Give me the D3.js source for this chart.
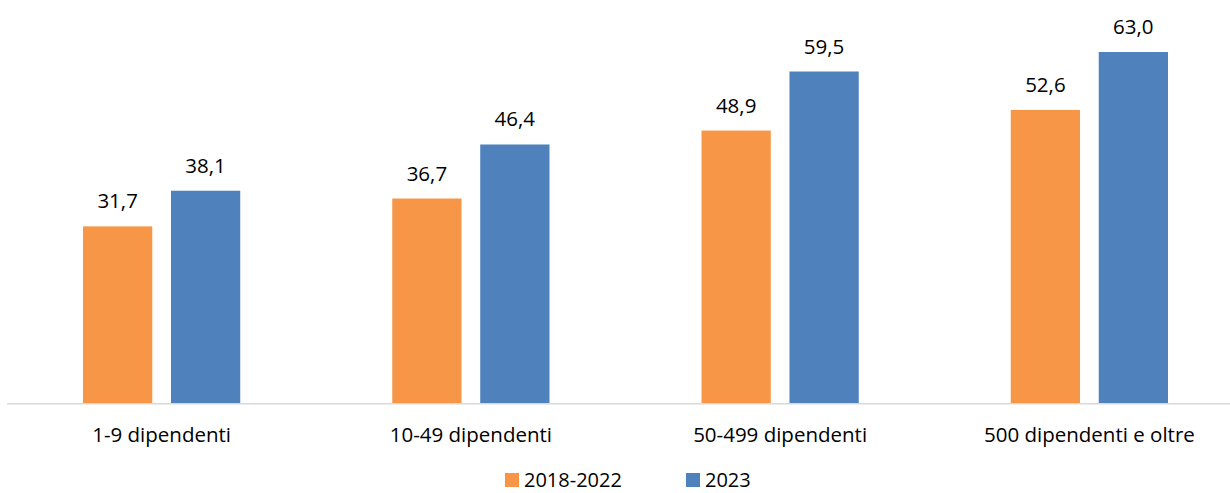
<!DOCTYPE html>
<html>
<head>
<meta charset="utf-8">
<script src="https://cdn.jsdelivr.net/npm/d3@7"></script>
<style>
  html, body { margin: 0; padding: 0; background: #fff; }
  svg { display: block; font-family: "Open Sans", sans-serif; }
</style>
</head>
<body>
<svg width="1230" height="493"></svg>
<script>
// Data
const categories = ["1-9 dipendenti", "10-49 dipendenti", "50-499 dipendenti", "500 dipendenti e oltre"];
const seriesNames = ["2018-2022", "2023"];
const values2018_2022 = [31.7, 36.7, 48.9, 52.6];
const values2023 = [38.1, 46.4, 59.5, 63.0];
const seriesColors = ["#F79646", "#4F81BD"];

let svg = d3.select("svg"),
    width = +svg.attr("width"),
    height = +svg.attr("height");

const rows = categories.map((c, i) => ({
    cat: c,
    vals: [values2018_2022[i], values2023[i]]
}));

// Scales
let x0 = d3.scaleBand()
    .domain(categories)
    .range([7, 1244])
    .paddingInner(0)
    .paddingOuter(0);

let x1 = d3.scaleBand()
    .domain(seriesNames)
    .range([0, x0.bandwidth()])
    .paddingInner(0.2125)
    .paddingOuter(0.864);

let y = d3.scaleLinear()
    .domain([0, 70])
    .range([403, 13]);

const fmt = v => d3.format(".1f")(v).replace(".", ",");

// Bars
let groups = svg.append("g")
    .selectAll("g")
    .data(rows)
    .enter()
    .append("g")
    .attr("transform", d => `translate(${x0(d.cat)},0)`);

groups.selectAll("rect")
    .data(d => d.vals.map((v, j) => ({ key: seriesNames[j], v: v, j: j })))
    .enter()
    .append("rect")
    .attr("x", d => x1(d.key))
    .attr("y", d => y(d.v))
    .attr("width", x1.bandwidth())
    .attr("height", d => y(0) - y(d.v))
    .attr("fill", d => seriesColors[d.j]);

// Value labels
groups.selectAll("text")
    .data(d => d.vals.map((v, j) => ({ key: seriesNames[j], v: v })))
    .enter()
    .append("text")
    .attr("x", d => x1(d.key) + x1.bandwidth() / 2)
    .attr("y", d => y(d.v) - 18)
    .attr("text-anchor", "middle")
    .style("font-size", "20.5px")
    .style("fill", "#000")
    .text(d => fmt(d.v));

// X axis line
svg.append("line")
    .attr("x1", 7)
    .attr("x2", 1244)
    .attr("y1", 403.75)
    .attr("y2", 403.75)
    .attr("stroke", "#d9d9d9")
    .attr("stroke-width", 1.5);

// Category labels
svg.append("g")
    .selectAll("text")
    .data(categories)
    .enter()
    .append("text")
    .attr("x", d => x0(d) + x0.bandwidth() / 2)
    .attr("y", 442.3)
    .attr("text-anchor", "middle")
    .style("font-size", "20.5px")
    .style("fill", "#000")
    .text(d => d);

// Legend (kept just inside the bottom edge)
const legendX = [505, 686];
let legend = svg.append("g")
    .selectAll("g")
    .data(seriesNames)
    .enter()
    .append("g")
    .attr("transform", (d, i) => `translate(${legendX[i]},473)`);

legend.append("rect")
    .attr("width", 14)
    .attr("height", 14)
    .attr("fill", (d, i) => seriesColors[i]);

legend.append("text")
    .attr("x", 19)
    .attr("y", 13.5)
    .style("font-size", "20px")
    .style("fill", "#000")
    .text(d => d);
</script>
</body>
</html>
